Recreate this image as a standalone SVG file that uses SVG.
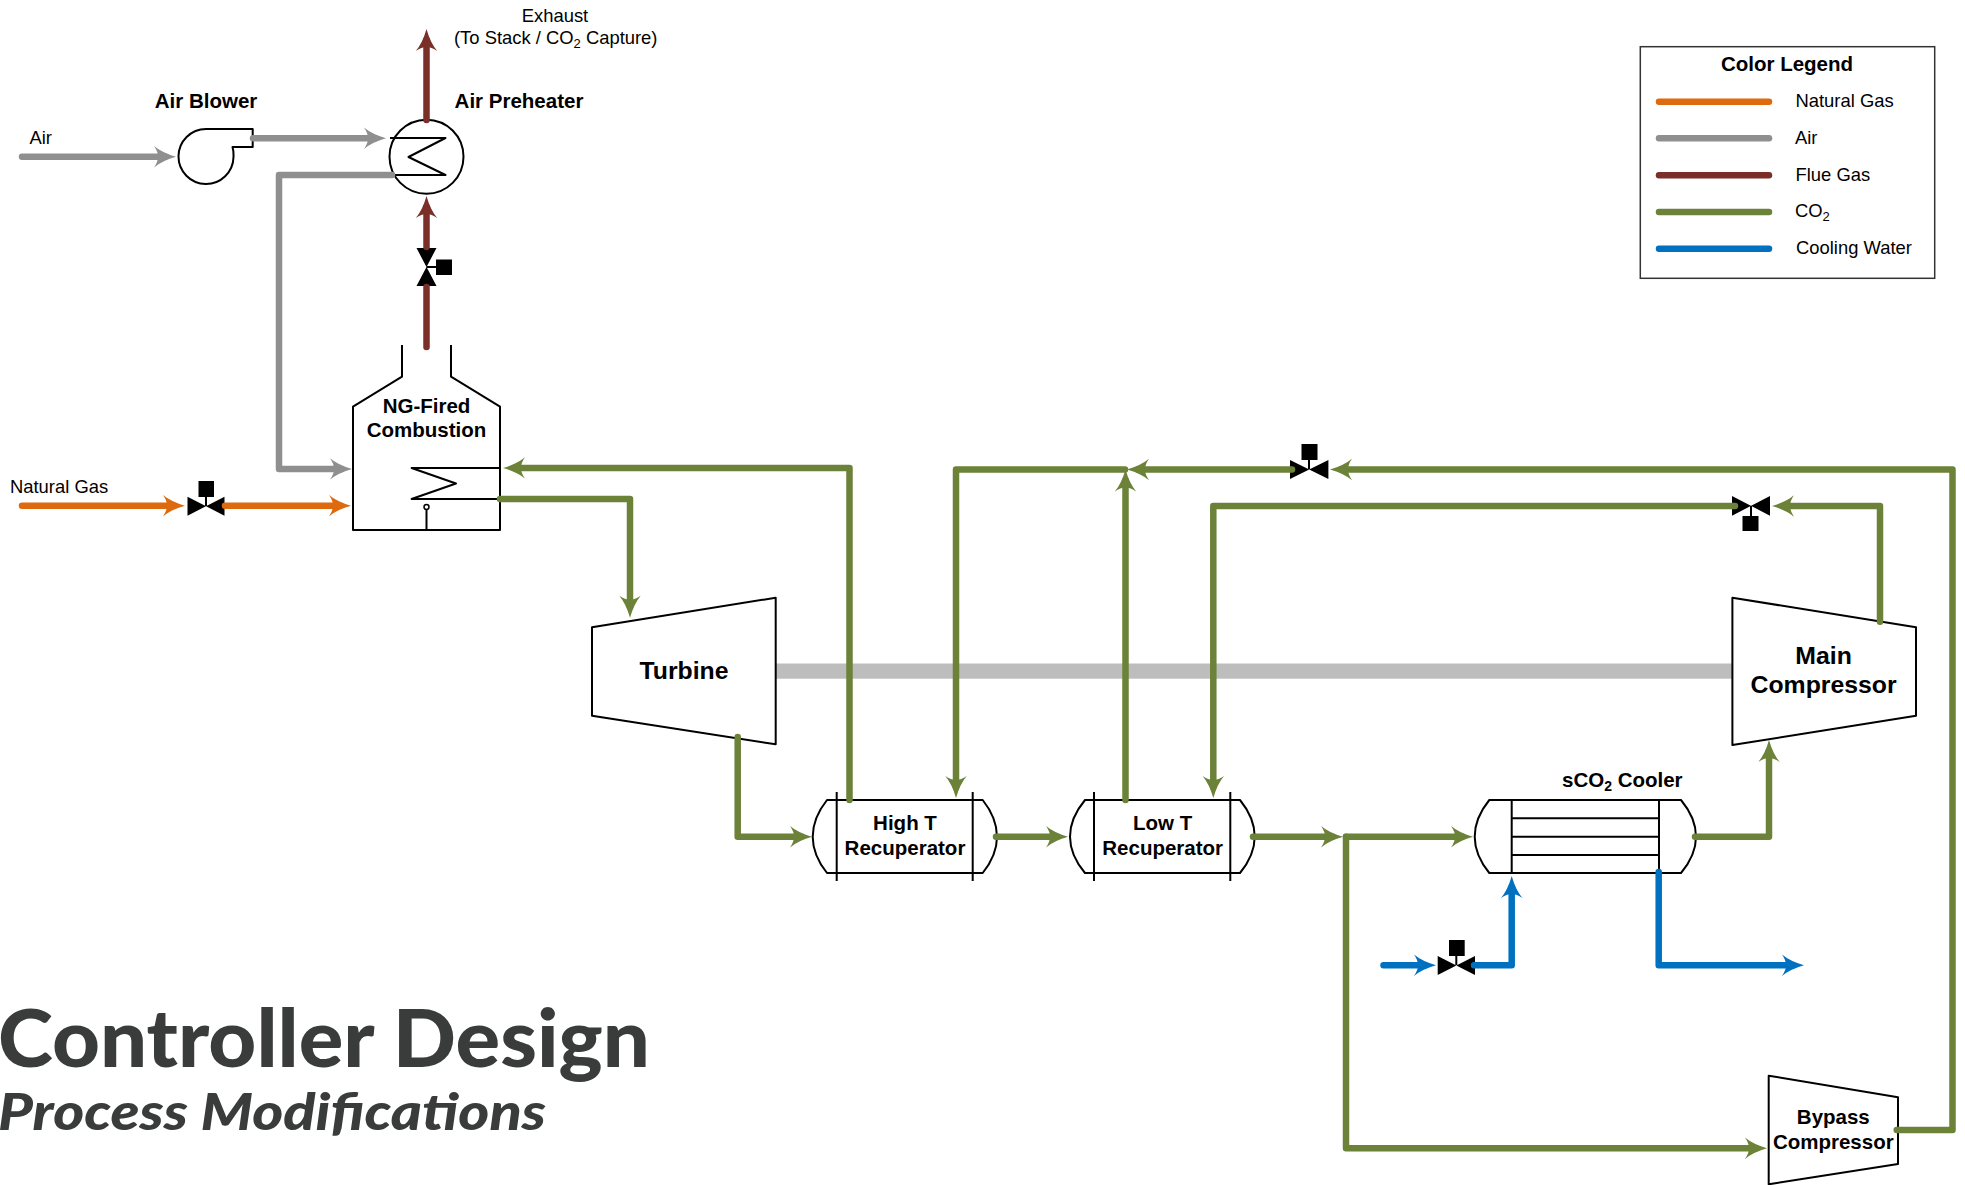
<svg xmlns="http://www.w3.org/2000/svg" width="1965" height="1185" viewBox="0 0 1965 1185">
<style>
text{font-family:"Liberation Sans",Arial,sans-serif;fill:#000}
.b{font-weight:700;font-size:20.5px;text-anchor:middle}
.big{font-weight:700;font-size:24.8px;text-anchor:middle}
.n{font-size:18.4px}
.eq{fill:#fff;stroke:#000;stroke-width:2;stroke-linejoin:round}
.ln{fill:none;stroke:#000;stroke-width:2;stroke-linejoin:round}
.k{fill:#000;stroke:none}
.p{fill:none;stroke-width:6.5;stroke-linecap:round;stroke-linejoin:round}
.g{stroke:#6b8238}.a{stroke:#8f8f8f}.f{stroke:#7a2f28}.o{stroke:#dd6a0e}.w{stroke:#0070c0}
.t{font-family:Lato,"Liberation Sans",sans-serif;fill:#3a3b3b;font-weight:900}
</style>
<defs>
<path id="h" d="M11 0Q-3-4-11-10.7Q-7-5-7 0Q-7 5-11 10.7Q-3 4 11 0Z"/>
<marker id="mg" viewBox="-12 -12 24 24" markerWidth="24" markerHeight="24" markerUnits="userSpaceOnUse" refX="0" refY="0" orient="auto"><use href="#h" fill="#6b8238"/></marker>
<marker id="ma" viewBox="-12 -12 24 24" markerWidth="24" markerHeight="24" markerUnits="userSpaceOnUse" refX="0" refY="0" orient="auto"><use href="#h" fill="#8f8f8f"/></marker>
<marker id="mf" viewBox="-12 -12 24 24" markerWidth="24" markerHeight="24" markerUnits="userSpaceOnUse" refX="0" refY="0" orient="auto"><use href="#h" fill="#7a2f28"/></marker>
<marker id="mo" viewBox="-12 -12 24 24" markerWidth="24" markerHeight="24" markerUnits="userSpaceOnUse" refX="0" refY="0" orient="auto"><use href="#h" fill="#dd6a0e"/></marker>
<marker id="mw" viewBox="-12 -12 24 24" markerWidth="24" markerHeight="24" markerUnits="userSpaceOnUse" refX="0" refY="0" orient="auto"><use href="#h" fill="#0070c0"/></marker>
</defs>
<rect width="1965" height="1185" fill="#fff"/>

<g id="shaft"><rect x="776" y="663.5" width="956.5" height="15.2" fill="#bdbdbd"/></g>

<g id="air-blower">
<path class="eq" d="M206 129H252.7V147H232.5C234 152 233.5 154 233.5 157A27.5 27.5 0 1 1 206 129Z"/>
<text class="b" x="206" y="108">Air Blower</text>
</g>
<g id="air-preheater">
<circle class="eq" cx="426.5" cy="156.7" r="37"/>
<path class="ln" d="M390 138H445.5L408.5 157L445.5 175H390"/>
<text class="b" x="519" y="108">Air Preheater</text>
</g>
<g id="combustion">
<path class="ln" d="M402 345V376.7L353 406.7V530H500V406.7L451 376.7V345"/>
<path class="ln" d="M500 468H411.6L456 483.5L411.6 499H500"/>
<circle cx="426.5" cy="507" r="2.5" fill="#fff" stroke="#000" stroke-width="1.5"/>
<path class="ln" d="M426.5 510V530"/>
<text class="b" x="426.5" y="412.7">NG-Fired</text>
<text class="b" x="426.5" y="437">Combustion</text>
</g>
<g id="turbine">
<path class="eq" d="M592 627.3L775.7 597.7V744.3L592 715.7Z"/>
<text class="big" x="684" y="678.5">Turbine</text>
</g>
<g id="main-compressor">
<path class="eq" d="M1732.4 597.7L1916 627.3V715.7L1732.4 745Z"/>
<text class="big" x="1823.6" y="663.5">Main</text>
<text class="big" x="1823.6" y="693">Compressor</text>
</g>
<g id="bypass-compressor">
<path class="eq" d="M1768.7 1075.7L1898 1097.3V1164L1768.7 1184.3Z"/>
<text class="b" x="1833.3" y="1124.3">Bypass</text>
<text class="b" x="1833.3" y="1148.7">Compressor</text>
</g>
<g id="high-t-recuperator">
<path class="eq" d="M827 800H982.7Q997 818 997 836.7Q997 855 982.7 873H827Q812.7 855 812.7 836.7Q812.7 818 827 800Z"/>
<path class="ln" d="M836.7 792V881M972.7 792V881"/>
<text class="b" x="905" y="830">High T</text>
<text class="b" x="905" y="855">Recuperator</text>
</g>
<g id="low-t-recuperator">
<path class="eq" d="M1085 800H1240Q1254.7 818 1254.7 836.7Q1254.7 855 1240 873H1085Q1070 855 1070 836.7Q1070 818 1085 800Z"/>
<path class="ln" d="M1094 792V881M1230.3 792V881"/>
<text class="b" x="1162.7" y="830">Low T</text>
<text class="b" x="1162.7" y="855">Recuperator</text>
</g>
<g id="sco2-cooler">
<path class="eq" d="M1489.3 800H1681Q1696 818 1696 836.7Q1696 855 1681 873H1489.3Q1474.7 855 1474.7 836.7Q1474.7 818 1489.3 800Z"/>
<path class="ln" d="M1511.7 800V873M1659 800V873M1511.7 818.3H1659M1511.7 836.7H1659M1511.7 855H1659"/>
<text class="b" x="1562" y="787.2" style="text-anchor:start">sCO<tspan font-size="14" dy="4">2</tspan><tspan dy="-4"> Cooler</tspan></text>
</g>

<g id="valve-flue">
<path class="k" d="M416.5 248H436.5L416.5 286H436.5Z"/>
<path class="ln" d="M426.5 267H437"/><rect class="k" x="436" y="259.5" width="16" height="15.5"/>
</g>
<g id="valve-gas">
<path class="k" d="M187.5 496.7V515.7L224.5 496.7V515.7Z"/>
<path class="ln" d="M206 506V496"/><rect class="k" x="198.5" y="481" width="15.5" height="16"/>
</g>
<g id="valve-bypass">
<path class="k" d="M1290 460V479L1328.4 460V479Z"/>
<path class="ln" d="M1309 469V459"/><rect class="k" x="1301.5" y="444" width="16" height="16"/>
</g>
<g id="valve-main">
<path class="k" d="M1732 496V515.7L1770 496V515.7Z"/>
<path class="ln" d="M1751 506V517"/><rect class="k" x="1742.5" y="516" width="16" height="15"/>
</g>
<g id="valve-water">
<path class="k" d="M1437.7 956V975L1475 956V975Z"/>
<path class="ln" d="M1456.3 965V955"/><rect class="k" x="1449" y="940" width="15.7" height="16"/>
</g>

<g id="connectors">
<path class="p a" d="M22 156.7H165" marker-end="url(#ma)"/>
<path class="p a" d="M253 138.3H375" marker-end="url(#ma)"/>
<path class="p a" d="M392 175H279V469H341" marker-end="url(#ma)"/>
<path class="p f" d="M426.5 120V40" marker-end="url(#mf)"/>
<path class="p f" d="M426.5 347V287"/>
<path class="p f" d="M426.5 247V207" marker-end="url(#mf)"/>
<path class="p o" d="M22 505.7H174" marker-end="url(#mo)"/>
<path class="p o" d="M225 505.7H340" marker-end="url(#mo)"/>
<path class="p g" d="M849.5 800V468H514" marker-end="url(#mg)"/>
<path class="p g" d="M500 499H630V606.7" marker-end="url(#mg)"/>
<path class="p g" d="M737.7 737V836.7H801" marker-end="url(#mg)"/>
<path class="p g" d="M996 836.7H1057" marker-end="url(#mg)"/>
<path class="p g" d="M1125.5 800V480.5" marker-end="url(#mg)"/>
<path class="p g" d="M1292 469.5H1138" marker-end="url(#mg)"/>
<path class="p g" d="M1125 469.5H956V787" marker-end="url(#mg)"/>
<path class="p g" d="M1896.7 1130H1952.5V469.5H1341" marker-end="url(#mg)"/>
<path class="p g" d="M1880 621.7V506H1783" marker-end="url(#mg)"/>
<path class="p g" d="M1735 506H1213.3V787" marker-end="url(#mg)"/>
<path class="p g" d="M1253 836.7H1332" marker-end="url(#mg)"/>
<path class="p g" d="M1346 836.7H1462" marker-end="url(#mg)"/>
<path class="p g" d="M1346 836.7V1148.3H1756" marker-end="url(#mg)"/>
<path class="p g" d="M1695 836.7H1769V751" marker-end="url(#mg)"/>
<path class="p w" d="M1383.5 965.3H1425" marker-end="url(#mw)"/>
<path class="p w" d="M1474 965.3H1511.7V887" marker-end="url(#mw)"/>
<path class="p w" d="M1658.7 872V965.3H1793" marker-end="url(#mw)"/>
</g>

<g id="labels">
<text class="n" x="555" y="22.3" text-anchor="middle">Exhaust</text>
<text class="n" x="454" y="44.3">(To Stack / CO<tspan font-size="13" dy="4">2</tspan><tspan dy="-4"> Capture)</tspan></text>
<text class="n" x="29.5" y="144">Air</text>
<text class="n" x="10" y="492.7">Natural Gas</text>
</g>

<g id="legend">
<rect x="1640.3" y="46.7" width="294.4" height="231.6" fill="#fff" stroke="#333" stroke-width="1.5"/>
<text class="b" x="1787" y="70.7">Color Legend</text>
<path class="p o" d="M1659 101.7H1769"/>
<path class="p a" d="M1659 138.3H1769"/>
<path class="p f" d="M1659 175.3H1769"/>
<path class="p g" d="M1659 212H1769"/>
<path class="p w" d="M1659 248.7H1769"/>
<text class="n" x="1795.5" y="107.3">Natural Gas</text>
<text class="n" x="1795" y="144.3">Air</text>
<text class="n" x="1795.5" y="181">Flue Gas</text>
<text class="n" x="1795" y="217.3">CO<tspan font-size="13" dy="4">2</tspan></text>
<text class="n" x="1796" y="254.3">Cooling Water</text>
</g>

<g id="title">
<text class="t" x="-2" y="1067.3" font-size="80" textLength="652" lengthAdjust="spacingAndGlyphs">Controller Design</text>
<text class="t" x="-2" y="1130" font-size="52" font-style="italic" textLength="548" lengthAdjust="spacingAndGlyphs">Process Modifications</text>
</g>
</svg>
